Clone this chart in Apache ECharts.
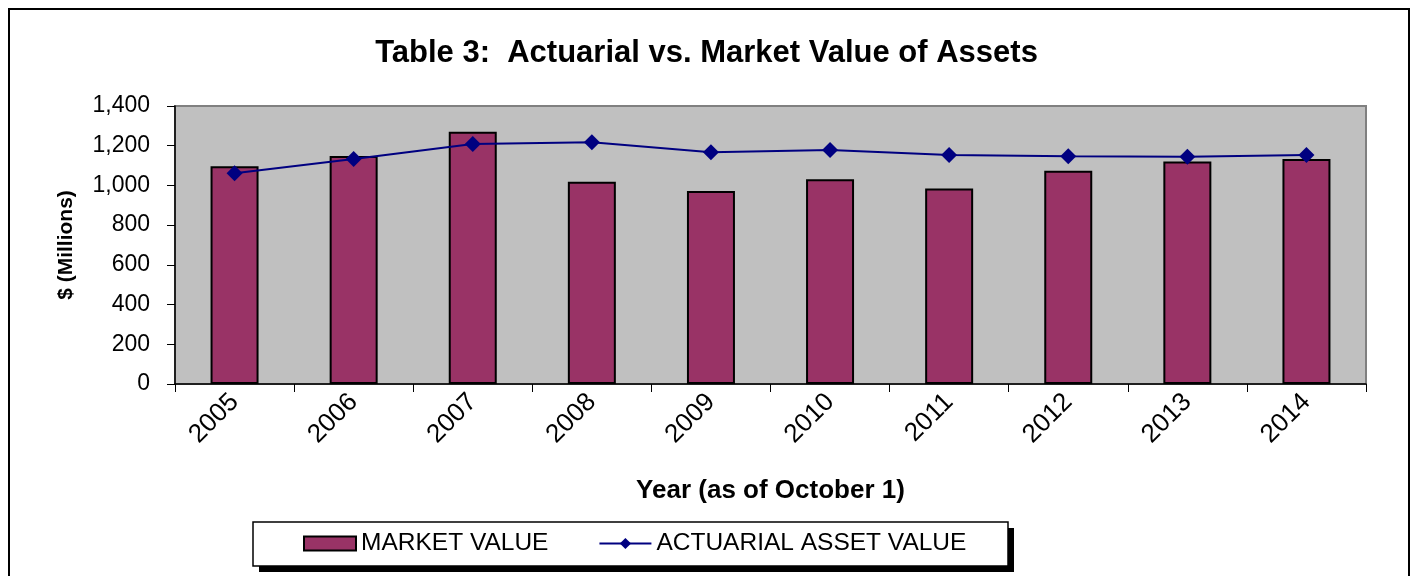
<!DOCTYPE html>
<html>
<head>
<meta charset="utf-8">
<script src="https://cdn.jsdelivr.net/npm/echarts@6/dist/echarts.min.js"></script>
<style>
  html, body { margin: 0; padding: 0; background: #fff; }
  #chart { width: 1413px; height: 576px; }
</style>
</head>
<body>
<div id="chart"></div>
<script>
// values, $ millions
const years = ['2005', '2006', '2007', '2008', '2009', '2010', '2011', '2012', '2013', '2014'];
const marketValue = [1097, 1148, 1270, 1019, 972, 1031, 984, 1074, 1121, 1133];
const actuarialValue = [1061, 1133, 1209, 1217, 1167, 1178, 1153, 1147, 1145, 1153];

const font = 'Liberation Sans, Arial, sans-serif';

const myChart = echarts.init(document.getElementById('chart'));
const option = {
    animation: false,
    textStyle: { fontFamily: font },
    title: {
        text: 'Table 3:  Actuarial vs. Market Value of Assets',
        left: 'center',
        top: 33,
        textStyle: { fontSize: 31, fontWeight: 'bold', color: '#000', fontFamily: font }
    },
    graphic: [
        {
            // outer frame
            type: 'rect',
            shape: { x: 9, y: 9, width: 1400, height: 600 },
            style: { fill: 'none', stroke: '#000', lineWidth: 2 },
            silent: true
        },
        {
            // legend box shadow
            type: 'rect',
            shape: { x: 259, y: 528, width: 755, height: 44 },
            style: { fill: '#000' },
            silent: true
        },
        {
            // legend box
            type: 'rect',
            shape: { x: 253, y: 522, width: 755, height: 44 },
            style: { fill: '#fff', stroke: '#000', lineWidth: 1.5 },
            silent: true
        }
    ],
    grid: {
        left: 175, right: 47, top: 106, bottom: 192,
        show: true,
        backgroundColor: '#c0c0c0',
        borderColor: '#808080',
        borderWidth: 2
    },
    legend: {
        left: 303, top: 531,
        padding: 0,
        itemGap: 50,
        itemWidth: 52, itemHeight: 14,
        z: 10,
        textStyle: { fontSize: 24.5, color: '#000', fontFamily: font },
        data: [
            { name: 'MARKET VALUE', icon: 'rect' },
            { name: 'ACTUARIAL ASSET VALUE' }
        ]
    },
    xAxis: {
        type: 'category',
        data: years,
        boundaryGap: true,
        name: 'Year (as of October 1)',
        nameLocation: 'middle',
        nameGap: 94,
        nameTextStyle: { fontSize: 26, fontWeight: 'bold', color: '#000', fontFamily: font },
        axisLine: { lineStyle: { color: '#000', width: 1.5 } },
        axisTick: { show: true, alignWithLabel: false, length: 8, lineStyle: { color: '#000' } },
        axisLabel: { rotate: 45, fontSize: 26, color: '#000', margin: 14, fontFamily: font }
    },
    yAxis: {
        type: 'value',
        min: 0, max: 1400, interval: 200,
        name: '$ (Millions)',
        nameLocation: 'middle',
        nameGap: 98,
        nameRotate: 90,
        nameTextStyle: { fontSize: 21, fontWeight: 'bold', color: '#000', fontFamily: font },
        axisLine: { show: true, lineStyle: { color: '#000', width: 1.5 } },
        axisTick: { show: true, length: 8, lineStyle: { color: '#000' } },
        splitLine: { show: false },
        axisLabel: {
            fontSize: 23, color: '#000', margin: 25, fontFamily: font,
            formatter: v => v.toLocaleString('en-US')
        }
    },
    series: [
        {
            name: 'MARKET VALUE',
            type: 'bar',
            data: marketValue,
            barWidth: 48,
            itemStyle: { color: '#993366', borderColor: '#000', borderWidth: 2 }
        },
        {
            name: 'ACTUARIAL ASSET VALUE',
            type: 'line',
            data: actuarialValue,
            symbol: 'diamond',
            symbolSize: 16,
            lineStyle: { color: '#000080', width: 2 },
            itemStyle: { color: '#000080' }
        }
    ]
};
myChart.setOption(option);
</script>
</body>
</html>
